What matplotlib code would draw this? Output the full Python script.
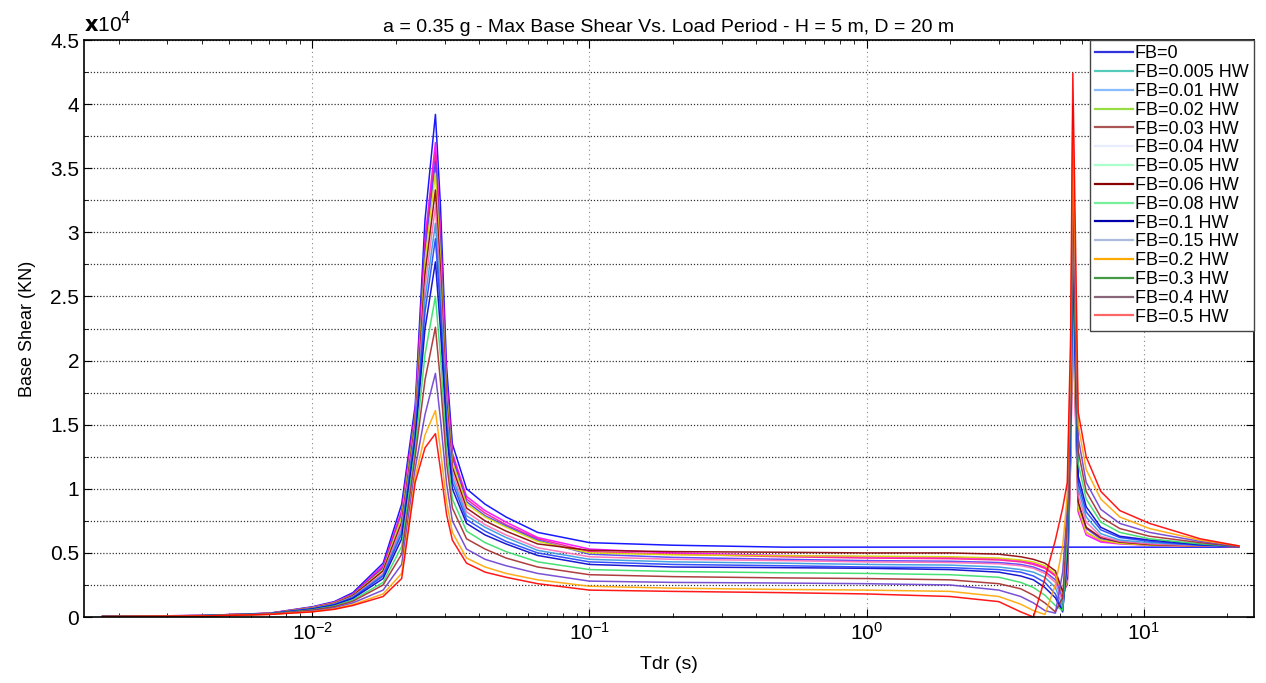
import numpy as np
import matplotlib
matplotlib.use("Agg")
import matplotlib.pyplot as plt
from matplotlib.lines import Line2D
from matplotlib.ticker import MultipleLocator, LogLocator, NullFormatter

plt.rcParams['font.family'] = ['Liberation Sans', 'DejaVu Sans']

# load period (s)
T = [0.00175, 0.004, 0.007, 0.01, 0.012, 0.014, 0.018, 0.021, 0.0235, 0.0255,
     0.0278, 0.029, 0.0305, 0.032, 0.036, 0.042, 0.05, 0.065, 0.1, 0.2,
     0.5, 1.0, 2.0, 3.0, 3.6, 4.0, 4.4, 4.8, 5.1, 5.3,
     5.45, 5.55, 5.8, 6.2, 7.0, 8.2, 10.5, 16, 22]

labels = ['FB=0', 'FB=0.005 HW', 'FB=0.01 HW', 'FB=0.02 HW', 'FB=0.03 HW',
          'FB=0.04 HW', 'FB=0.05 HW', 'FB=0.06 HW', 'FB=0.08 HW', 'FB=0.1 HW',
          'FB=0.15 HW', 'FB=0.2 HW', 'FB=0.3 HW', 'FB=0.4 HW', 'FB=0.5 HW']

# max base shear, x 1e4 kN
fb_000 = [0.005, 0.012, 0.03, 0.08, 0.12, 0.19, 0.42, 0.88, 1.65, 3.10,
          3.92, 3.20, 1.95, 1.35, 1.00, 0.88, 0.78, 0.66, 0.58, 0.56,
          0.545, 0.545, 0.545, 0.545, 0.545, 0.545, 0.545, 0.545, 0.545, 0.545,
          0.545, 0.545, 0.545, 0.545, 0.545, 0.545, 0.545, 0.545, 0.545]
fb_005 = [0.005, 0.012, 0.029, 0.076, 0.115, 0.18, 0.40, 0.83, 1.60, 2.95,
          3.70, 3.00, 1.85, 1.28, 0.94, 0.83, 0.74, 0.62, 0.53, 0.50,
          0.48, 0.47, 0.465, 0.455, 0.44, 0.42, 0.39, 0.33, 0.20, 0.25,
          1.20, 2.30, 0.82, 0.64, 0.585, 0.57, 0.56, 0.553, 0.55]
fb_01 = [0.005, 0.012, 0.029, 0.075, 0.113, 0.178, 0.39, 0.81, 1.58, 2.90,
         3.62, 2.93, 1.82, 1.26, 0.92, 0.81, 0.72, 0.61, 0.51, 0.49,
         0.47, 0.46, 0.455, 0.445, 0.43, 0.41, 0.38, 0.32, 0.17, 0.27,
         1.25, 2.40, 0.84, 0.66, 0.595, 0.575, 0.562, 0.554, 0.55]
fb_02 = [0.005, 0.011, 0.028, 0.074, 0.11, 0.175, 0.38, 0.79, 1.56, 2.85,
         3.55, 2.88, 1.79, 1.24, 0.90, 0.79, 0.71, 0.60, 0.49, 0.465,
         0.45, 0.44, 0.435, 0.425, 0.41, 0.39, 0.355, 0.29, 0.14, 0.30,
         1.30, 2.50, 0.88, 0.69, 0.61, 0.58, 0.565, 0.555, 0.55]
fb_03 = [0.005, 0.011, 0.028, 0.073, 0.11, 0.17, 0.37, 0.78, 1.54, 2.78,
         3.46, 2.80, 1.75, 1.21, 0.88, 0.78, 0.70, 0.59, 0.50, 0.485,
         0.478, 0.475, 0.47, 0.46, 0.445, 0.43, 0.40, 0.34, 0.18, 0.28,
         1.30, 2.40, 0.85, 0.66, 0.60, 0.575, 0.56, 0.553, 0.55]
fb_04 = [0.004, 0.011, 0.028, 0.07, 0.106, 0.166, 0.36, 0.74, 1.51, 2.68,
         3.33, 2.70, 1.69, 1.17, 0.85, 0.75, 0.67, 0.57, 0.52, 0.51,
         0.505, 0.50, 0.50, 0.49, 0.47, 0.45, 0.42, 0.36, 0.20, 0.30,
         1.50, 4.00, 0.90, 0.70, 0.62, 0.585, 0.565, 0.555, 0.55]
fb_05 = [0.004, 0.011, 0.027, 0.068, 0.103, 0.16, 0.34, 0.71, 1.48, 2.58,
         3.20, 2.59, 1.63, 1.13, 0.82, 0.72, 0.64, 0.54, 0.47, 0.45,
         0.44, 0.43, 0.425, 0.415, 0.40, 0.38, 0.34, 0.27, 0.12, 0.35,
         1.40, 2.60, 0.95, 0.74, 0.63, 0.59, 0.57, 0.555, 0.55]
fb_06 = [0.004, 0.011, 0.027, 0.066, 0.10, 0.156, 0.33, 0.68, 1.45, 2.48,
         3.07, 2.49, 1.57, 1.09, 0.79, 0.70, 0.62, 0.52, 0.45, 0.43,
         0.42, 0.41, 0.405, 0.39, 0.37, 0.35, 0.31, 0.23, 0.08, 0.40,
         1.45, 2.70, 1.00, 0.78, 0.65, 0.60, 0.58, 0.56, 0.55]
fb_08 = [0.004, 0.010, 0.026, 0.064, 0.097, 0.15, 0.32, 0.65, 1.42, 2.38,
         2.95, 2.39, 1.51, 1.05, 0.76, 0.67, 0.59, 0.50, 0.43, 0.41,
         0.40, 0.39, 0.385, 0.37, 0.35, 0.32, 0.27, 0.18, 0.05, 0.45,
         1.50, 2.80, 1.05, 0.82, 0.68, 0.62, 0.59, 0.56, 0.55]
fb_10 = [0.004, 0.010, 0.025, 0.062, 0.092, 0.144, 0.30, 0.61, 1.37, 2.25,
         2.77, 2.24, 1.43, 1.00, 0.73, 0.64, 0.57, 0.48, 0.41, 0.39,
         0.385, 0.38, 0.37, 0.35, 0.32, 0.29, 0.23, 0.15, 0.04, 0.50,
         1.60, 2.90, 1.10, 0.86, 0.70, 0.63, 0.60, 0.565, 0.55]
fb_15 = [0.004, 0.010, 0.024, 0.057, 0.086, 0.133, 0.27, 0.55, 1.31, 2.05,
         2.50, 2.03, 1.31, 0.92, 0.67, 0.58, 0.51, 0.43, 0.37, 0.355,
         0.345, 0.34, 0.33, 0.31, 0.27, 0.23, 0.17, 0.09, 0.05, 0.60,
         1.70, 3.10, 1.20, 0.92, 0.74, 0.66, 0.61, 0.57, 0.55]
fb_20 = [0.004, 0.009, 0.023, 0.053, 0.08, 0.123, 0.25, 0.49, 1.25, 1.85,
         2.26, 1.83, 1.20, 0.85, 0.61, 0.53, 0.46, 0.39, 0.33, 0.315,
         0.305, 0.30, 0.29, 0.26, 0.22, 0.17, 0.11, 0.04, 0.15, 0.75,
         1.80, 3.30, 1.30, 0.98, 0.78, 0.69, 0.63, 0.58, 0.55]
fb_30 = [0.003, 0.009, 0.022, 0.048, 0.072, 0.11, 0.21, 0.41, 1.16, 1.58,
         1.90, 1.54, 1.04, 0.75, 0.53, 0.45, 0.40, 0.34, 0.28, 0.27,
         0.265, 0.26, 0.25, 0.21, 0.16, 0.11, 0.05, 0.03, 0.35, 0.85,
         1.90, 3.50, 1.40, 1.05, 0.84, 0.73, 0.66, 0.59, 0.55]
fb_40 = [0.003, 0.008, 0.021, 0.043, 0.064, 0.097, 0.18, 0.34, 1.09, 1.42,
         1.61, 1.30, 0.90, 0.66, 0.46, 0.39, 0.34, 0.29, 0.24, 0.225,
         0.215, 0.21, 0.20, 0.16, 0.10, 0.05, 0.02, 0.25, 0.55, 0.95,
         2.00, 3.80, 1.50, 1.15, 0.92, 0.78, 0.69, 0.60, 0.555]
fb_50 = [0.003, 0.008, 0.02, 0.04, 0.06, 0.09, 0.16, 0.30, 1.05, 1.32,
         1.43, 1.15, 0.80, 0.60, 0.42, 0.35, 0.31, 0.26, 0.21, 0.20,
         0.19, 0.18, 0.16, 0.12, 0.04, 0.0, 0.30, 0.60, 0.85, 1.05,
         2.20, 4.24, 1.60, 1.25, 0.98, 0.83, 0.73, 0.61, 0.555]

series = [fb_000, fb_005, fb_01, fb_02, fb_03, fb_04, fb_05, fb_06,
          fb_08, fb_10, fb_15, fb_20, fb_30, fb_40, fb_50]

# colours as they show on the curves
line_colors = ['#0000ff', '#ff00ff', '#ff1493', '#4b3cff', '#d4e000',
               '#8b0000', '#ff69b4', '#3399dd', '#1f3fff', '#0000cc',
               '#33dd66', '#a52a2a', '#6a3fd0', '#ffa500', '#ff0000']
# colours as they show in the legend
legend_colors = ['#3333dd', '#55ccbb', '#88bbff', '#99dd44', '#aa5555',
                 '#e8ecff', '#aaffcc', '#880000', '#77ee99', '#0000aa',
                 '#aabbdd', '#ffaa00', '#449944', '#886677', '#ff6666']

fig = plt.figure(figsize=(12.66, 6.83), dpi=100, facecolor='white')
ax = fig.add_axes([0.0664, 0.0966, 0.9241, 0.8448])

for vals, c in zip(series, line_colors):
    ax.plot(T, vals, color=c, lw=1.1, alpha=0.9)

ax.set_xscale('log')
ax.set_xlim(0.0015, 25)
ax.set_ylim(0, 4.5)
ax.set_yticks(np.arange(0, 4.51, 0.5))
ax.set_yticklabels(['0', '0.5', '1', '1.5', '2', '2.5', '3', '3.5', '4', '4.5'])
ax.yaxis.set_minor_locator(MultipleLocator(0.25))
ax.xaxis.set_minor_locator(LogLocator(base=10, subs=np.arange(2, 10)))
ax.xaxis.set_minor_formatter(NullFormatter())

ax.grid(True, which='both', axis='y', color='#333333', ls=(0, (1, 1.5)), lw=0.9)
ax.grid(True, which='major', axis='x', color='#888888', ls=(0, (1, 3)), lw=0.8)
ax.tick_params(which='both', direction='in', top=True, right=True, labelsize=15)
ax.tick_params(which='major', length=6)
ax.tick_params(which='minor', length=3)
for sp in ax.spines.values():
    sp.set_linewidth(1.2)

ax.set_title('a = 0.35 g - Max Base Shear Vs. Load Period - H = 5 m, D = 20 m',
             fontsize=14, pad=6)
ax.set_xlabel('Tdr (s)', fontsize=14, labelpad=9)
ax.set_ylabel('Base Shear (KN)', fontsize=13, labelpad=10)
ax.text(0.0, 1.006, r'$\mathbf{x}$10$^4$', transform=ax.transAxes, fontsize=15,
        ha='left', va='bottom')

handles = [Line2D([], [], color=c, lw=1.6) for c in legend_colors]
leg = ax.legend(handles, labels, loc='upper right', fontsize=13,
                borderaxespad=0, labelspacing=0.1, handlelength=2.1,
                handletextpad=0.1, fancybox=False, framealpha=1,
                edgecolor='#444444', borderpad=0.3)
leg.get_frame().set_linewidth(1.0)

fig.savefig('out.png', dpi=100)
